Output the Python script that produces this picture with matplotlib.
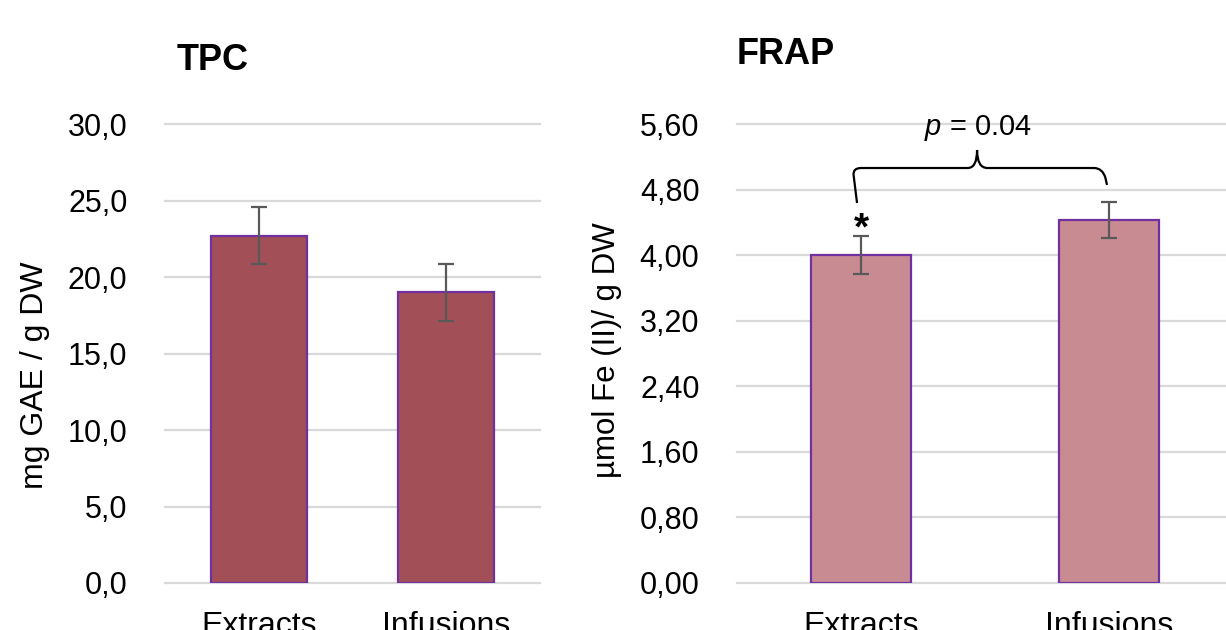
import matplotlib
matplotlib.use("Agg")
import matplotlib.pyplot as plt
from matplotlib.path import Path
from matplotlib.patches import PathPatch
from matplotlib.ticker import FuncFormatter

plt.rcParams['font.family'] = ['Liberation Sans', 'DejaVu Sans']
plt.rcParams['mathtext.fontset'] = 'custom'
plt.rcParams['mathtext.it'] = 'Liberation Sans:italic'
plt.rcParams['mathtext.rm'] = 'Liberation Sans'

categories = ["Extracts", "Infusions"]
tpc_values = [22.7, 19.0]
tpc_err = [1.85, 1.85]
frap_values = [4.00, 4.43]
frap_err = [0.23, 0.22]
tpc_ticks = [0, 5, 10, 15, 20, 25, 30]
frap_ticks = [0, 0.8, 1.6, 2.4, 3.2, 4.0, 4.8, 5.6]

W, H = 1226, 630
fig = plt.figure(figsize=(W / 100, H / 100), dpi=100)

def px_axes(x0, x1, ytop, ybot):
    return fig.add_axes([x0 / W, (H - ybot) / H, (x1 - x0) / W, (ybot - ytop) / H])

grid_c = "#D9D9D9"
edge_c = "#7030A0"
err_c = "#595959"

def style(ax, ticks, fmt, ymax):
    ax.set_xlim(-0.5, 1.5)
    ax.set_ylim(0, ymax)
    ax.set_yticks(ticks)
    ax.yaxis.set_major_formatter(FuncFormatter(lambda v, p: fmt.format(v).replace('.', ',')))
    ax.set_xticks(range(len(categories)))
    ax.set_xticklabels(categories)
    for s in ax.spines.values():
        s.set_visible(False)
    ax.grid(axis='y', color=grid_c, linewidth=1.6)
    ax.set_axisbelow(True)
    ax.tick_params(axis='y', length=0, labelsize=22, pad=27)
    ax.tick_params(axis='x', length=0, labelsize=23, pad=20)
    for gl in ax.get_ygridlines():
        gl.set_clip_on(False)

# TPC
ax1 = px_axes(165, 540, 124, 583)
style(ax1, tpc_ticks, "{:.1f}", 30)
ax1.bar(range(2), tpc_values, width=0.51, color="#A34F57", edgecolor=edge_c, linewidth=1.6,
        yerr=tpc_err, error_kw=dict(ecolor=err_c, elinewidth=1.6, capsize=6, capthick=1.6), zorder=3)
fig.text(35 / W, 1 - 375 / H, "mg GAE / g DW", rotation=90, ha='center', va='center', fontsize=23)
fig.text(213 / W, 1 - 60 / H, "TPC", ha='center', va='center', fontsize=26, fontweight='bold')

# FRAP
ax2 = px_axes(737, 1233, 124, 583)
style(ax2, frap_ticks, "{:.2f}", 5.6)
ax2.bar(range(2), frap_values, width=0.40, color="#C98B92", edgecolor=edge_c, linewidth=1.6,
        yerr=frap_err, error_kw=dict(ecolor=err_c, elinewidth=1.6, capsize=6, capthick=1.6), zorder=3)
fig.text(607 / W, 1 - 350 / H, "µmol Fe (II)/ g DW", rotation=90, ha='center', va='center', fontsize=22.5)
fig.text(786 / W, 1 - 55 / H, "FRAP", ha='center', va='center', fontsize=26, fontweight='bold')

# significance annotation
ax2.text(0.0, 4.31, "*", ha='center', va='center', fontsize=28, fontweight='bold', zorder=4)
yh = 5.063
verts = [(-0.016, 4.636), (-0.030, 4.98), (-0.032, yh), (0.0, yh), (0.43, yh),
         (0.468, yh), (0.468, 5.283), (0.468, yh), (0.51, yh), (0.94, yh),
         (0.972, yh), (0.985, 4.95), (0.992, 4.856)]
codes = [Path.MOVETO, Path.LINETO, Path.CURVE3, Path.CURVE3, Path.LINETO,
         Path.CURVE3, Path.CURVE3, Path.CURVE3, Path.CURVE3, Path.LINETO,
         Path.CURVE3, Path.CURVE3, Path.LINETO]
ax2.add_patch(PathPatch(Path(verts, codes), facecolor='none', edgecolor='black', linewidth=1.6, clip_on=False))
ax2.text(0.47, 5.55, "$p$ = 0.04", ha='center', va='center', fontsize=21, clip_on=False)

fig.savefig("out.png", dpi=100)
